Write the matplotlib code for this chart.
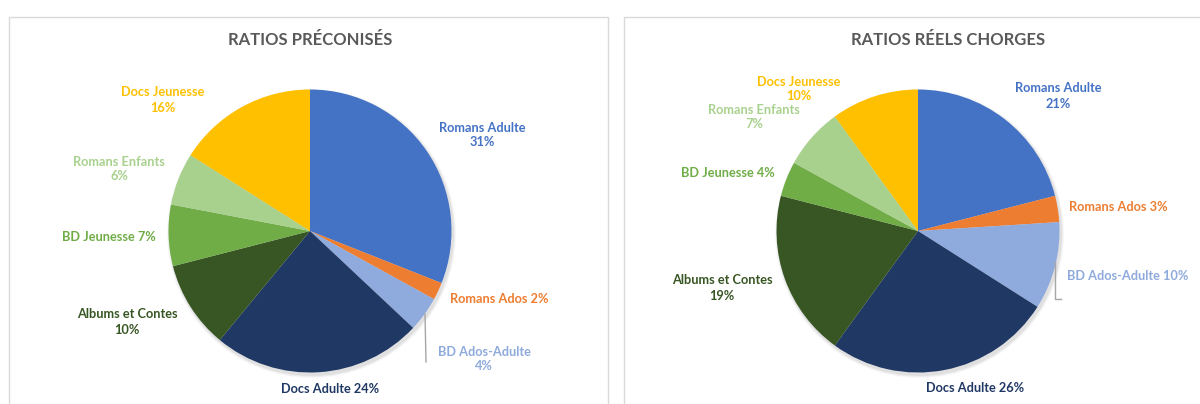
import matplotlib.pyplot as plt
from matplotlib.patches import Rectangle, Circle

# data
categories = ['Romans Adulte', 'Romans Ados', 'BD Ados-Adulte', 'Docs Adulte',
              'Albums et Contes', 'BD Jeunesse', 'Romans Enfants', 'Docs Jeunesse']
preconises = [31, 2, 4, 24, 10, 7, 6, 16]
reels = [21, 3, 10, 26, 19, 4, 7, 10]
titles = ['RATIOS PRÉCONISÉS', 'RATIOS RÉELS CHORGES']

colors = ['#4472C4', '#ED7D31', '#8FAADC', '#203864',
          '#375623', '#70AD47', '#A9D18E', '#FFC000']

# label layout (pixels from top-left), and whether name/value on two lines
lab_left = [(482, 135, True), (499, 299, False), (484, 359, True), (330, 389, False),
            (127, 322, True), (109, 237, False), (119, 169, True), (163, 100, True)]
lab_right = [(1058, 96, True), (1118, 207, False), (1128, 276, False), (975, 388, False),
             (722, 288, True), (728, 173, False), (754, 117, True), (799, 89, True)]

W, H = 1200, 404
fig = plt.figure(figsize=(12, 4.04), dpi=100)
ax = fig.add_axes([0, 0, 1, 1])

def Y(y):
    return H - y

# panel borders
ax.add_patch(Rectangle((9, Y(420)), 599, 420 - 17, fill=False, ec='#d9d9d9', lw=1))
ax.add_patch(Rectangle((624, Y(420)), 600, 420 - 17, fill=False, ec='#d9d9d9', lw=1))

panels = [(preconises, 310, lab_left), (reels, 918, lab_right)]
for i, (vals, cx, labs) in enumerate(panels):
    cy = 231
    r = 141.5
    # soft shadow
    for k, a in enumerate([0.05, 0.04, 0.03]):
        ax.add_patch(Circle((cx + 1.5, Y(cy) - 2.5), r + 1 + k, color='black', alpha=a, lw=0, zorder=1))
    ax.pie(vals, colors=colors, startangle=90, counterclock=False,
           center=(cx, Y(cy)), radius=r, frame=True,
           wedgeprops=dict(linewidth=0, zorder=2))
    ax.text(cx + (0 if i == 0 else 30), Y(40), titles[i], ha='center', va='center',
            fontsize=12, fontweight='bold', color='#595959', family='Lato')
    for cat, v, col, (lx, ly, two) in zip(categories, vals, colors, labs):
        s = f'{cat}\n{v}%' if two else f'{cat} {v}%'
        ax.text(lx, Y(ly), s, ha='center', va='center', fontsize=9.2,
                fontweight='bold', color=col, family='Lato', linespacing=1.3)

# leader lines
ax.plot([425, 426], [Y(314), Y(362)], color='#a6a6a6', lw=1)
ax.plot([1055, 1055, 1061], [Y(262), Y(299), Y(299)], color='#a6a6a6', lw=1)

ax.set_xlim(0, W)
ax.set_ylim(0, H)
ax.axis('off')

fig.savefig('out.png', dpi=100)
